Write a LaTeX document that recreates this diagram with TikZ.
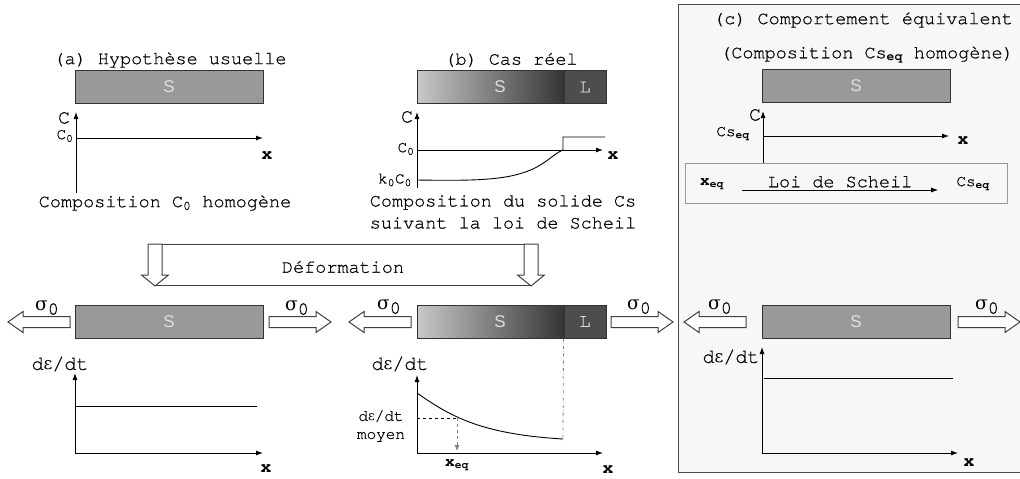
\documentclass[tikz,border=0pt]{standalone}
\usepackage{fontspec}
\setmainfont{TeX Gyre Cursor}[UprightFeatures={FakeBold=0.6}]
\newfontfamily\arialf{Liberation Sans}
\newfontfamily\grkf{DejaVu Serif}
\usetikzlibrary{positioning,arrows.meta}

\definecolor{barS}{HTML}{999999}
\definecolor{barL}{HTML}{4D4D4D}
\definecolor{gradL}{HTML}{C8C8C8}
\definecolor{gradR}{HTML}{363636}
\definecolor{panel}{HTML}{F7F7F7}

\newcommand{\sg}{{\grkf σ}\raisebox{-4pt}{0}}
\newcommand{\de}{d{\grkf\fontsize{17}{17}\selectfont ε}/dt}
\newcommand{\des}{d{\grkf\fontsize{13}{13}\selectfont ε}/dt}

\begin{document}
\begin{tikzpicture}[
  x=1pt, y=-1pt,
  lbl/.style={font=\fontsize{18.5}{22}\selectfont, inner sep=1pt},
  sml/.style={font=\fontsize{16}{18}\selectfont, inner sep=1pt},
  big/.style={font=\fontsize{20}{22}\selectfont, inner sep=1pt},
  xlab/.style={font=\fontsize{18}{20}\selectfont\bfseries, inner sep=1pt},
  bar/.style={draw=black!80, line width=1pt, minimum height=33pt,
              inner sep=0pt, text=gray!25,
              font=\arialf\fontsize{17}{17}\selectfont},
  lbar/.style={bar, fill=barL, minimum width=42pt,
               font=\fontsize{19}{19}\selectfont},
  axis/.style={line width=0.9pt, -{Latex[length=7pt,width=5pt]}},
  plain/.style={line width=0.9pt},
  hollow/.style={draw=black!75, line width=1pt, fill=white},
  pics/sarrow/.style={code={
    \draw[hollow] (0,-5.5) -- (47,-5.5) -- (47,-10.5) -- (62,0)
      -- (47,10.5) -- (47,5.5) -- (0,5.5) -- cycle;}},
  pics/darrow/.style={code={
    \draw[hollow] (-7,0) -- (7,0) -- (7,31) -- (13.5,31) -- (0,42)
      -- (-13.5,31) -- (-7,31) -- cycle;}}
]
\useasboundingbox (0,0) rectangle (1020,479);

% panel (c) background
\draw[draw=black!70, line width=1pt, fill=panel] (678,4) rectangle (1030,472);

% (a) usual hypothesis
\node[lbl] (titA) at (170,60) {(a) Hypothèse usuelle};
\node[bar, fill=barS, minimum width=188pt] (barA) at (169,87) {S};
\draw[axis] (76,193) -- (76,112);
\draw[axis] (76,138) -- (263,138);
\node[big] (cA) at (64,118) {C};
\node[sml] (c0A) at (65,136) {C\textsubscript{0}};
\node[xlab] (xA) at (267,156) {x};
\node[lbl] (capA) at (165,203) {Composition C\textsubscript{0} homogène};

% (b) real case
\node[lbl] (titB) at (511,60) {(b) Cas réel};
\node[bar, left color=gradL, right color=gradR, minimum width=146pt]
  (barB) at (490,87) {\hspace*{20pt}S};
\node[lbar, right=0pt of barB] (barBl) {L};
\draw[axis] (417,188) -- (417,112);
\draw[axis] (417,150) -- (603,150);
\node[big] (cB) at (407,117) {C};
\node[sml] (c0B) at (406,149) {C\textsubscript{0}};
\node[sml] (k0B) at (395,180) {k\textsubscript{0}C\textsubscript{0}};
\node[xlab] (xB) at (613,156) {x};
\draw[plain] (417,180) .. controls (480,181) and (510,180) .. (535,168)
  .. controls (550,160) and (555,153) .. (563,150)
  -- (563,137) -- (605,137);
\node[lbl, align=center] (capB) at (503,212)
  {Composition du solide Cs\\suivant la loi de Scheil};

% (c) equivalent behaviour
\node[lbl] (titC) at (863,20) {(c) Comportement équivalent};
\node[lbl] (subC) at (867,55) {(Composition Cs\textsubscript{\bfseries eq} homogène)};
\node[bar, fill=barS, minimum width=188pt] (barC) at (856,85.5) {S};
\draw[axis] (763,163) -- (763,111);
\draw[axis] (763,136) -- (949,136);
\node[big] (cC) at (755,115) {C};
\node[sml] (cseqC) at (733,134) {Cs\textsubscript{\bfseries eq}};
\node[xlab] (xC) at (963,141) {x};
\node[draw=gray!80, line width=1pt, fill=panel, minimum width=322pt,
      minimum height=40pt] (scheil) at (846,183) {};
\node[sml, font=\fontsize{16}{18}\selectfont\bfseries] (xeq) at (712,184)
  {x\textsubscript{eq}};
\node[sml] (cseq) at (973,184) {Cs\textsubscript{\bfseries eq}};
\draw[axis] ([xshift=17pt,yshift=-6pt]xeq.east) --
  node[lbl, above=1pt] (loi) {Loi de Scheil}
  ([xshift=-17pt,yshift=-6pt]cseq.west);

% deformation
\pic at (155,244) {darrow};
\pic at (531,244) {darrow};
\draw[draw=black!75, line width=1pt] (162,244) -- (524,244);
\draw[draw=black!75, line width=1pt] (155,285) -- (531,285);
\node[lbl] (defo) at (343,267) {Déformation};

% loaded bars
\pic[rotate=180] at (70,322) {sarrow};
\pic at (269,322) {sarrow};
\node[lbl] (sA1) at (47,308) {\sg};
\node[lbl] (sA2) at (297,308) {\sg};
\node[bar, fill=barS, minimum width=188pt] (barA2) at (169,321.5) {S};

\pic[rotate=180] at (411,322) {sarrow};
\pic at (611,322) {sarrow};
\node[lbl] (sB1) at (389,307) {\sg};
\node[lbl] (sB2) at (639,307) {\sg};
\node[bar, left color=gradL, right color=gradR, minimum width=146pt]
  (barB2) at (490,321.5) {\hspace*{20pt}S};
\node[lbar, right=0pt of barB2] (barBl2) {L};

\pic[rotate=180] at (746,322) {sarrow};
\pic at (958,322) {sarrow};
\node[lbl] (sC1) at (720,307) {\sg};
\node[lbl] (sC2) at (987,307) {\sg};
\node[bar, fill=barS, minimum width=188pt] (barC2) at (856,321.5) {S};

% strain rate plots
\node[big] (deA) at (60,364) {\de};
\draw[axis] (75,453) -- (75,373);
\draw[axis] (75,453) -- (263,453);
\draw[plain] (75,406) -- (257,406);
\node[xlab] (xA2) at (266,469) {x};

\node[big] (deB) at (400,364) {\de};
\draw[axis] (417,453) -- (417,375);
\draw[axis] (417,453) -- (603,453);
\draw[plain] (417,393) .. controls (450,416) and (480,434) .. (563,439);
\draw[dashed, line width=0.8pt] (417,418) -- (457,418);
\draw[dashed, gray, line width=0.8pt, -{Latex[length=6pt,width=5pt]}]
  (457,418) -- (457,451);
\draw[dash dot, gray, line width=0.8pt] (barB2.south east) -- (563,440);
\node[sml, align=center] (avg) at (381,426) {\des\\moyen};
\node[sml, font=\fontsize{16}{18}\selectfont\bfseries] (xeqB) at (457,465)
  {x\textsubscript{eq}};
\node[xlab] (xB2) at (608,470) {x};

\node[big] (deC) at (731,357) {\de};
\draw[axis] (762,453) -- (762,347);
\draw[axis] (762,453) -- (958,453);
\draw[plain] (764,378) -- (953,378);
\node[xlab] (xC2) at (969,463) {x};
\end{tikzpicture}
\end{document}
